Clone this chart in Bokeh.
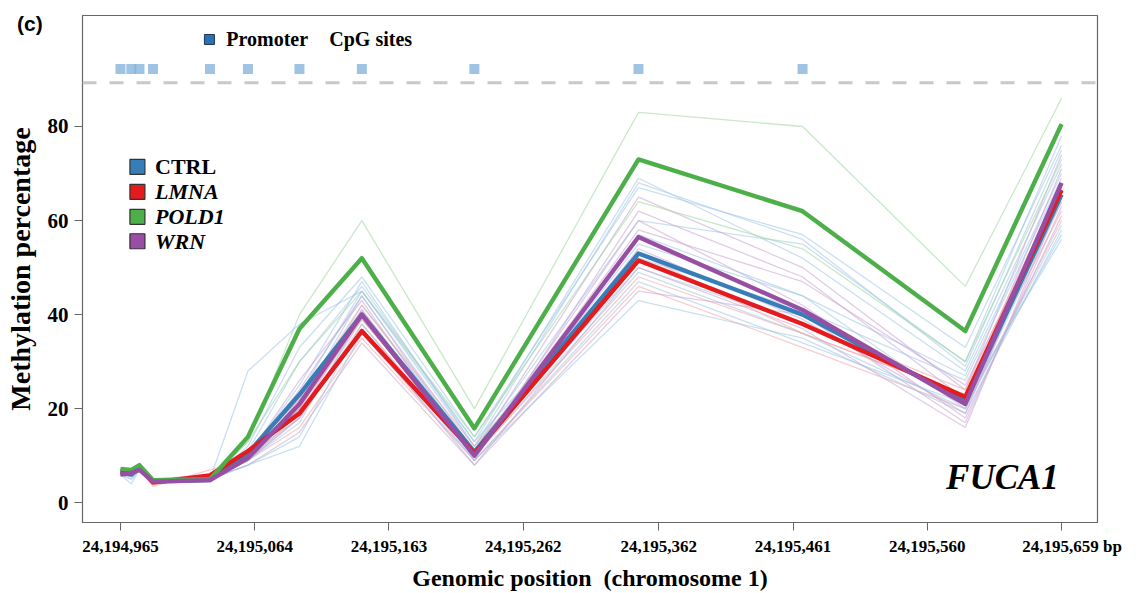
from bokeh.plotting import figure
from bokeh.models import Range1d, FixedTicker, NumeralTickFormatter, Label, Span, Div
from bokeh.layouts import column
from bokeh.embed import file_html
from bokeh.resources import INLINE

# ---------------- data ----------------
positions = [24194965, 24194973, 24194979, 24194989, 24195031, 24195059, 24195097,
             24195143, 24195226, 24195347, 24195468, 24195588, 24195659]
cpg_sites = [24194965, 24194973, 24194979, 24194989, 24195031, 24195059, 24195097,
             24195143, 24195226, 24195347, 24195468]
x_ticks = [24194965, 24195064, 24195163, 24195262, 24195362, 24195461, 24195560, 24195659]
y_ticks = [0, 20, 40, 60, 80]

groups = ["CTRL", "LMNA", "POLD1", "WRN"]
group_colors = ["#377eb8", "#e41a1c", "#4daf4a", "#984ea3"]
group_styles = ["bold", "bold italic", "bold italic", "bold italic"]

ctrl_mean  = [6.5, 6.0, 7.5, 4.5, 4.8, 10.5, 23.0, 40.0, 10.8, 53.0, 40.0, 21.5, 65.5]
lmna_mean  = [6.7, 6.8, 7.5, 4.3, 5.8, 11.0, 19.0, 36.5, 10.5, 51.5, 38.0, 22.5, 66.5]
pold1_mean = [7.2, 7.0, 8.0, 4.8, 5.0, 14.0, 37.0, 52.0, 15.8, 73.0, 62.0, 36.5, 80.5]
wrn_mean   = [6.0, 6.3, 7.0, 4.5, 4.8, 9.5, 21.0, 40.0, 10.0, 56.5, 41.0, 21.0, 68.0]
means = [ctrl_mean, lmna_mean, pold1_mean, wrn_mean]

# individual samples (group index, values)
sample_groups = [2, 0, 0, 0, 3, 0, 1, 1, 3, 0, 0, 3, 3, 0, 2, 0, 1, 3, 0, 3, 0, 3, 0, 1]
sample_values = [
    [7.0, 7.0, 8.0, 5.0, 5.0, 13.0, 40.0, 60.0, 20.0, 83.0, 80.0, 46.0, 86.0],
    [6.0, 4.0, 7.0, 5.0, 5.0, 28.0, 38.0, 45.0, 12.0, 60.0, 55.0, 30.0, 78.0],
    [6.0, 5.0, 7.0, 4.5, 5.0, 10.0, 25.0, 47.0, 12.0, 68.0, 56.0, 29.0, 75.0],
    [6.0, 6.0, 7.0, 4.5, 5.0, 11.0, 30.0, 46.0, 13.0, 69.0, 52.0, 28.0, 72.0],
    [6.0, 6.0, 7.0, 4.5, 6.0, 10.0, 24.0, 44.0, 11.0, 65.0, 50.0, 24.0, 74.0],
    [6.5, 6.0, 7.5, 4.5, 5.0, 9.0, 20.0, 42.0, 11.0, 57.0, 44.0, 27.0, 70.0],
    [6.0, 6.0, 7.0, 4.0, 6.0, 10.0, 18.0, 38.0, 10.0, 48.0, 36.0, 23.0, 62.0],
    [6.0, 6.0, 7.0, 3.5, 7.0, 9.0, 16.0, 35.0, 9.0, 46.0, 33.0, 20.0, 60.0],
    [6.0, 5.5, 7.0, 4.5, 5.0, 8.0, 15.0, 34.0, 8.0, 45.0, 40.0, 17.0, 63.0],
    [6.0, 6.0, 7.0, 4.5, 5.0, 8.0, 12.0, 36.0, 9.0, 43.0, 35.0, 19.0, 58.0],
    [6.5, 6.0, 7.0, 4.5, 5.0, 9.0, 18.0, 39.0, 11.0, 50.0, 38.0, 22.0, 56.0],
    [6.0, 6.0, 7.0, 4.5, 5.0, 9.0, 22.0, 41.0, 10.0, 58.0, 47.0, 25.0, 66.0],
    [6.0, 6.0, 7.0, 4.5, 5.0, 10.0, 26.0, 43.0, 9.0, 62.0, 48.0, 22.0, 71.0],
    [6.0, 6.0, 7.0, 4.5, 5.0, 12.0, 33.0, 48.0, 14.0, 67.0, 57.0, 33.0, 76.0],
    [7.0, 7.0, 8.0, 5.0, 5.0, 13.0, 30.0, 45.0, 14.0, 64.0, 54.0, 30.0, 73.0],
    [6.0, 5.0, 7.0, 4.5, 5.0, 10.0, 21.0, 44.0, 10.0, 55.0, 44.0, 20.0, 64.0],
    [6.5, 6.5, 7.5, 5.0, 6.0, 11.0, 22.0, 42.0, 12.0, 52.0, 38.0, 24.0, 68.0],
    [6.0, 6.0, 7.0, 4.5, 5.5, 9.0, 19.0, 40.0, 10.0, 60.0, 42.0, 18.0, 61.0],
    [6.0, 6.0, 7.0, 4.5, 5.0, 8.0, 14.0, 38.0, 9.0, 47.0, 34.0, 21.0, 57.0],
    [6.0, 6.0, 7.0, 4.5, 5.0, 9.0, 18.0, 37.0, 8.0, 50.0, 37.0, 16.0, 65.0],
    [6.5, 6.0, 7.5, 4.5, 5.0, 10.0, 23.0, 45.0, 13.0, 52.0, 41.0, 26.0, 69.0],
    [6.0, 6.0, 7.0, 4.5, 5.0, 10.0, 20.0, 41.0, 10.0, 54.0, 39.0, 19.0, 67.0],
    [6.0, 6.0, 7.0, 4.5, 5.0, 9.0, 17.0, 40.0, 10.0, 49.0, 36.0, 20.0, 59.0],
    [6.0, 6.0, 7.0, 4.5, 6.0, 10.0, 20.0, 39.0, 11.0, 53.0, 36.0, 23.0, 64.0],
]
sample_colors = ["#9fc4e4", "#f3a3a3", "#9ed69c", "#c7a2d2"]

# ---------------- figure ----------------
SERIF = "Liberation Serif"
p = figure(width=1142, height=593, output_backend="svg", toolbar_location=None,
           x_range=Range1d(24194937, 24195685.5), y_range=Range1d(-4.2, 103.6),
           min_border_left=82, min_border_right=45, min_border_top=15, min_border_bottom=66)
p.grid.visible = False
p.outline_line_color = "#666666"
p.outline_line_width = 1.2
p.background_fill_color = "white"
p.border_fill_color = "white"

for ax in (p.xaxis[0], p.yaxis[0]):
    ax.axis_line_color = "#666666"
    ax.major_tick_line_color = "#666666"
    ax.minor_tick_line_color = None
    ax.major_tick_in = 0
    ax.major_tick_out = 8
    ax.major_label_text_font = SERIF
    ax.major_label_text_font_style = "bold"
    ax.major_label_text_color = "black"
    ax.axis_label_text_font = SERIF
    ax.axis_label_text_font_style = "bold"
    ax.axis_label_text_color = "black"

p.xaxis.ticker = FixedTicker(ticks=x_ticks)
p.xaxis.formatter = NumeralTickFormatter(format="0,0")
p.xaxis.major_label_overrides = {x_ticks[-1]: "\u00a0\u00a0\u00a0\u00a0\u00a024,195,659 bp"}
p.xaxis.major_label_text_font_size = "17px"
p.xaxis.major_label_standoff = 6
p.xaxis.axis_label = "Genomic position\u00a0 (chromosome 1)"
p.xaxis.axis_label_text_font_size = "24px"
p.xaxis.axis_label_standoff = 6

p.yaxis.ticker = FixedTicker(ticks=y_ticks)
p.yaxis.major_label_text_font_size = "21px"
p.yaxis.major_label_standoff = 6
p.yaxis.axis_label = "Methylation percentage"
p.yaxis.axis_label_text_font_size = "28px"
p.yaxis.axis_label_standoff = 9

# individual sample lines
for g, vals in zip(sample_groups, sample_values):
    p.line(positions, vals, line_color=sample_colors[g], line_alpha=0.55, line_width=1.3)

# group mean lines
for vals, col in zip(means, group_colors):
    p.line(positions, vals, line_color=col, line_width=4.4, line_join="round")

# promoter CpG site markers & dashed separator
p.add_layout(Span(location=89.3, dimension="width", line_color="#c8c8c8",
                  line_width=3, line_dash="14 13"))
p.scatter(cpg_sites, [92.2] * len(cpg_sites), marker="square", size=10,
          fill_color="#7fb0da", fill_alpha=0.75, line_color=None)

# top legend
p.scatter([24195030.6], [98.5], marker="square", size=10, fill_color="#2a72b5",
          line_color="#1f3550", line_width=1)
p.add_layout(Label(x=24195043, y=98.5, text="Promoter", text_font=SERIF, text_color="black",
                   text_font_style="bold", text_font_size="20px", text_baseline="middle"))
p.add_layout(Label(x=24195119, y=98.5, text="CpG sites", text_font=SERIF, text_color="black",
                   text_font_style="bold", text_font_size="20px", text_baseline="middle"))

# group legend
leg_y = [71.4, 66.1, 60.8, 55.6]
for name, col, sty, yy in zip(groups, group_colors, group_styles, leg_y):
    p.scatter([24194977.5], [yy], marker="square", size=15, fill_color=col,
              line_color="#333333", line_width=1.2)
    p.add_layout(Label(x=24194990.5, y=yy, text=name, text_font=SERIF, text_font_style=sty,
                       text_color="black", text_font_size="22px", text_baseline="middle"))

# gene name
p.add_layout(Label(x=24195657, y=5.4, text="FUCA1", text_font=SERIF, text_color="black",
                   text_font_style="bold italic", text_font_size="35px",
                   text_align="right", text_baseline="middle"))

# panel letter, overlaid at the top-left corner
tag = Div(text="(c)", styles={"position": "absolute", "left": "12px", "top": "4px",
                              "font-family": "Liberation Sans", "font-weight": "bold",
                              "font-size": "21px", "color": "black", "z-index": "10"})
layout = column(p, tag)

open("out.html", "w").write(file_html(layout, INLINE))
